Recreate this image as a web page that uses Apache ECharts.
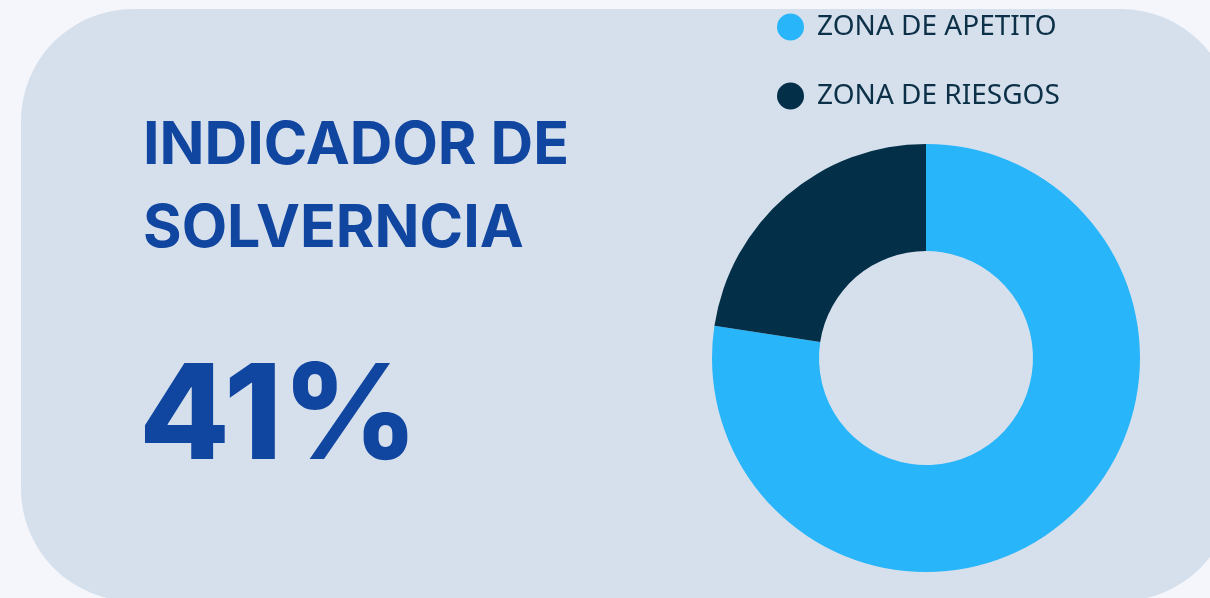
<!DOCTYPE html>
<html>
<head>
<meta charset="utf-8">
<script src="https://cdn.jsdelivr.net/npm/echarts@6/dist/echarts.min.js"></script>
<style>
html,body{margin:0;padding:0;background:#f4f6fb;}
#chart{width:1210px;height:598px;}
</style>
</head>
<body>
<div id="chart"></div>
<script>
const categories = ['ZONA DE APETITO', 'ZONA DE RIESGOS'];
const values = [77.4, 22.6];
const colors = ['#29b5fa', '#032f48'];
const headline = ['INDICADOR DE', 'SOLVERNCIA'];
const kpiText = '41%';

const chart = echarts.init(document.getElementById('chart'));
chart.setOption({
  backgroundColor: '#f4f6fb',
  animation: false,
  graphic: [
    { type: 'rect', z: -10, silent: true,
      shape: { x: 21, y: 9, width: 1212, height: 592, r: 112 },
      style: { fill: '#d6e0ec' } },
    { type: 'text', left: 143, top: 105, z: 10,
      style: { text: headline.join('\n'), fill: '#1045a0', font: '700 59px Inter', lineHeight: 83 } },
    { type: 'text', left: 139, top: 353, z: 10,
      style: { text: kpiText, fill: '#1045a0', font: '800 132px Inter' } }
  ],
  legend: {
    orient: 'vertical', left: 772, top: 8,
    icon: 'circle', itemWidth: 27, itemHeight: 27, itemGap: 41,
    selectedMode: false,
    textStyle: { color: '#0b3047', fontSize: 28, lineHeight: 27, fontFamily: 'Noto Sans', padding: [0, 0, 0, 8] },
    data: categories
  },
  series: [{
    type: 'pie',
    center: [926, 358],
    radius: [107, 214],
    startAngle: 90,
    clockwise: true,
    label: { show: false },
    labelLine: { show: false },
    emphasis: { disabled: true },
    itemStyle: { borderWidth: 0 },
    data: categories.map((c, i) => ({ name: c, value: values[i], itemStyle: { color: colors[i] } }))
  }]
});
</script>
</body>
</html>
